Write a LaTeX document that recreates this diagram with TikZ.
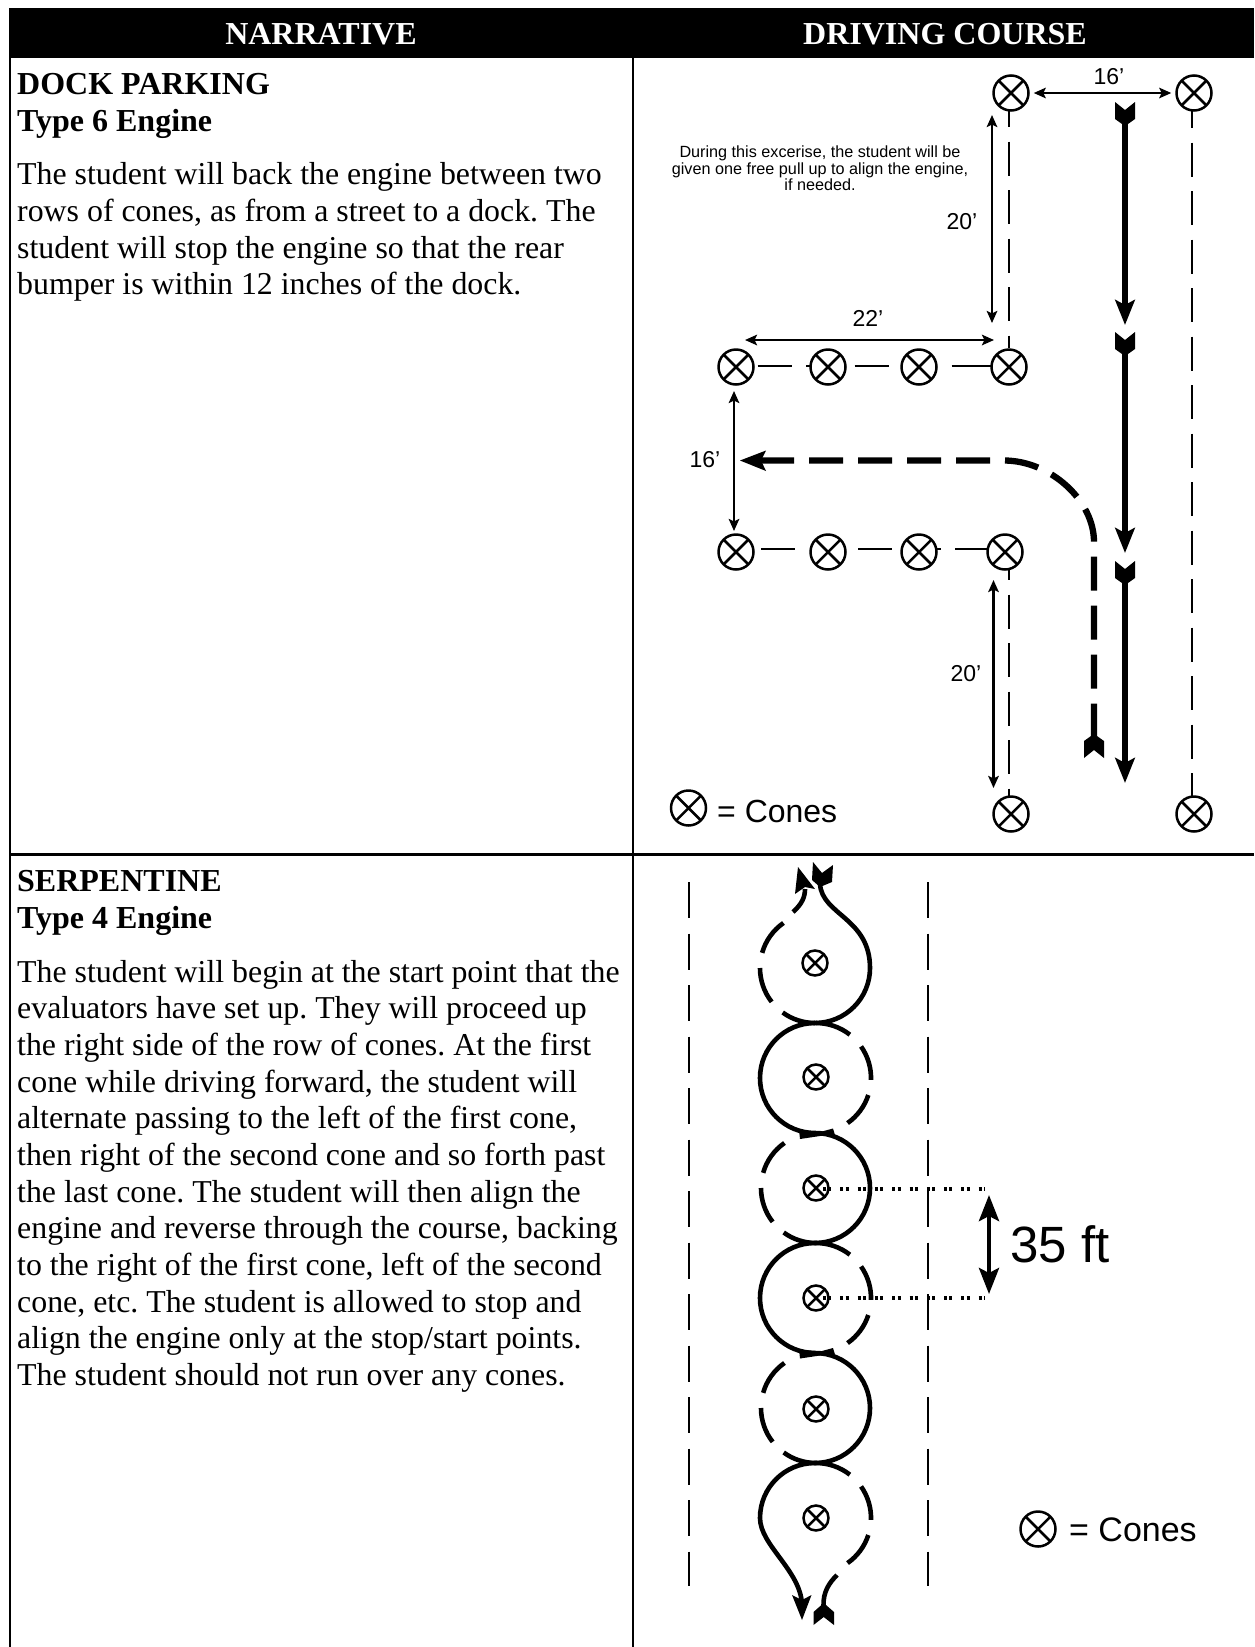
\documentclass[tikz,border=0pt]{standalone}
\usepackage{fontspec}
\setmainfont{Liberation Serif}
\newfontfamily\arial{Liberation Sans}
\usetikzlibrary{arrows.meta,calc}
\frenchspacing
\tikzset{
  cone/.style={circle,draw=black,fill=white,line width=2.5pt,minimum size=35pt,inner sep=0pt,
    path picture={\draw[line width=2.5pt] (path picture bounding box.north east)--(path picture bounding box.south west)
      (path picture bounding box.north west)--(path picture bounding box.south east);}},
  smallcone/.style={cone,minimum size=25pt},
  rule/.style={line width=2.2pt,black},
  lane/.style={line width=2.6pt,dash pattern=on 34pt off 14.5pt},
  lanetwo/.style={line width=2.6pt,dash pattern=on 36pt off 15.5pt},
  dim/.style={line width=2.3pt,{Stealth[length=12pt,width=10.5pt,inset=2.5pt]}-{Stealth[length=12pt,width=10.5pt,inset=2.5pt]}},
  fatline/.style={line width=5.4pt,-{Stealth[length=25pt,width=19.5pt,inset=5pt]}},
  fatdash/.style={line width=6.3pt,dash pattern=on 34pt off 15pt},
  track/.style={line width=4.6pt},
  dots/.style={line width=4.6pt,dash pattern=on 3pt off 2.3pt on 3pt off 9pt},
  bigdim/.style={line width=4.4pt,{Stealth[length=26pt,width=20pt,inset=5pt]}-{Stealth[length=26pt,width=20pt,inset=5pt]}},
  head/.style={text=white,font=\fontsize{32}{36}\selectfont\bfseries,inner sep=0pt,anchor=base},
  title/.style={font=\fontsize{32}{36}\selectfont\bfseries,inner sep=0pt,anchor=base west},
  body/.style={font=\fontsize{31.85}{36.65}\selectfont,inner sep=0pt,anchor=north west,align=left},
  dimtext/.style={font=\arial\fontsize{23}{26}\selectfont,inner sep=0pt},
  feather/.pic={\fill (-10,0)--(0,-8)--(10,0)--(10,-17)--(3,-22)--(-3,-22)--(-10,-17)--cycle;}
}
\newcommand{\rarc}[4][]{\draw[track,#1] (#2) ++(#3:55pt) arc[start angle=#3,end angle=#4,radius=55pt];}
\begin{document}
\begin{tikzpicture}[x=1pt,y=1pt]
\useasboundingbox (0,0) rectangle (1254,-1647);
\fill[white] (0,0) rectangle (1254,-1647);
% table
\coordinate (hl) at (9,-8); \coordinate (hr) at (1254,-58);
\fill[black] (hl) rectangle (hr);
\coordinate (tl) at (10,-58); \coordinate (bl) at (10,-1647);
\coordinate (tm) at (633,-58); \coordinate (bm) at (633,-1647);
\coordinate (ml) at (9,-854.5); \coordinate (mr) at (1254,-854.5);
\draw[rule] (tl)--(bl); \draw[rule] (tm)--(bm); \draw[rule] (ml)--(mr);
\node[head] (h1) at (321,-44.5) {NARRATIVE};
\node[head] (h2) at (945,-44.5) {DRIVING COURSE};
% text
\node[title] (t1) at (17,-94) {DOCK PARKING};
\node[title] (t2) at (17,-131) {Type 6 Engine};
\node[body] (b1) at (17,-162.5) {The student will back the engine between two\\rows of cones, as from a street to a dock. The\\student will stop the engine so that the rear\\bumper is within 12 inches of the dock.};
\node[title] (t3) at (17,-891) {SERPENTINE};
\node[title] (t4) at (17,-928) {Type 4 Engine};
\node[body] (b2) at (17,-960) {The student will begin at the start point that the\\evaluators have set up. They will proceed up\\the right side of the row of cones. At the first\\cone while driving forward, the student will\\alternate passing to the left of the first cone,\\then right of the second cone and so forth past\\the last cone. The student will then align the\\engine and reverse through the course, backing\\to the right of the first cone, left of the second\\cone, etc. The student is allowed to stop and\\align the engine only at the stop/start points.\\The student should not run over any cones.};
% dock course: lanes
\coordinate (la) at (1009,-110); \coordinate (lb) at (1009,-348);
\coordinate (lc) at (1009,-566); \coordinate (ld) at (1009,-798);
\coordinate (ra) at (1192,-110); \coordinate (rb) at (1192,-798);
\coordinate (ha) at (757.5,-366); \coordinate (hb) at (988,-366); \coordinate (hc) at (952,-366); \coordinate (hd) at (992,-366);
\coordinate (ga) at (761,-549); \coordinate (gb) at (988,-549);
\draw[lane,dash phase=17pt] (la)--(lb);
\draw[lane,dash phase=20pt] (lc)--(ld);
\draw[lane,dash phase=16pt] (ra)--(rb);
\draw[lane] (ha)--(hb);
\draw[line width=2.6pt] (hc)--(hd);
\draw[lane] (ga)--(gb);
\node[cone] (c1) at (1011,-93) {};
\node[cone] (c2) at (1194,-93) {};
\node[cone] (c3) at (736,-367) {};
\node[cone] (c4) at (828,-367) {};
\node[cone] (c5) at (919,-367) {};
\node[cone] (c6) at (1009,-367) {};
\node[cone] (c7) at (736,-552) {};
\node[cone] (c8) at (828,-552) {};
\node[cone] (c9) at (919,-552) {};
\node[cone] (c10) at (1005,-552) {};
\node[cone] (c11) at (1011,-814) {};
\node[cone] (c12) at (1194,-814) {};
% dock course: dimensions
\draw[dim] ([xshift=4pt]c1.east)--([xshift=-4pt]c2.west);
\coordinate (d1a) at (992,-115); \coordinate (d1b) at (992,-323);
\draw[dim] (d1a)--(d1b);
\coordinate (d2a) at (745,-340); \coordinate (d2b) at (994,-340);
\draw[dim] (d2a)--(d2b);
\coordinate (d3a) at (734,-391); \coordinate (d3b) at (734,-531);
\draw[dim] (d3a)--(d3b);
\coordinate (d4a) at (993.5,-580); \coordinate (d4b) at (993.5,-788);
\draw[dim] (d4a)--(d4b);
\node[dimtext] (l16a) at (1109,-77) {16’};
\node[dimtext] (l20a) at (962,-222) {20’};
\node[dimtext] (l22) at (868,-318) {22’};
\node[dimtext] (l16b) at (705,-460) {16’};
\node[dimtext] (l20b) at (966,-674) {20’};
\node[font=\arial\fontsize{16.2}{16.6}\selectfont,align=center,inner sep=0pt] (note) at (820,-168.5) {During this excerise, the student will be\\given one free pull up to align the engine,\\if needed.};
% dock course: engine paths
\coordinate (s1a) at (1125,-118); \coordinate (s1b) at (1125,-325);
\coordinate (s2a) at (1125,-348); \coordinate (s2b) at (1125,-553);
\coordinate (s3a) at (1125,-577); \coordinate (s3b) at (1125,-783);
\draw[fatline] (s1a)--(s1b);
\draw[fatline] (s2a)--(s2b);
\draw[fatline] (s3a)--(s3b);
\pic at (1125,-102) {feather};
\pic at (1125,-332) {feather};
\pic at (1125,-561) {feather};
\coordinate (p1) at (760,-460.5); \coordinate (p2) at (1004,-460.5); \coordinate (p3) at (1094,-542); \coordinate (p4) at (1094,-745);
\draw[fatdash] (p1)--(p2) .. controls (1050,-460.5) and (1094,-500) .. (p3)--(p4);
\coordinate (p0) at (740,-460.5);
\fill (p0)--(766,-450.5)--(761,-460.5)--(766,-471)--cycle;
\pic[rotate=180] at (1094,-758) {feather};
\node[cone] (leg1) at (688.5,-808) {};
\node[font=\arial\fontsize{32}{36}\selectfont,inner sep=0pt,anchor=west] (legt1) at (717,-811) {= Cones};
% serpentine: lanes
\coordinate (sa) at (689,-882); \coordinate (sb) at (689,-1586);
\coordinate (sc) at (928,-882); \coordinate (sd) at (928,-1586);
\draw[lanetwo] (sa)--(sb);
\draw[lanetwo] (sc)--(sd);
% serpentine: rings
\coordinate (r1) at (815,-968); \coordinate (r2) at (816,-1078); \coordinate (r3) at (816,-1188);
\coordinate (r4) at (816,-1298); \coordinate (r5) at (816,-1408); \coordinate (r6) at (816,-1518);
% solid path
\coordinate (st0) at (820,-884); \coordinate (st1) at (870,-968);
\draw[track] (st0) .. controls (822,-915) and (870,-918) .. (st1)
  arc[start angle=0,end angle=-90,radius=55pt]
  arc[start angle=90,end angle=270,radius=55pt]
  arc[start angle=90,end angle=-90,radius=55pt]
  arc[start angle=90,end angle=270,radius=55pt]
  arc[start angle=90,end angle=-90,radius=55pt]
  arc[start angle=90,end angle=180,radius=55pt]
  .. controls +(0,-27) and (800,-1570) .. (802,-1604);
\coordinate (tip) at (802,-1620);
\fill (tip)--(792,-1595)--(802,-1600)--(811.5,-1595)--cycle;
% dashed path
\foreach \r in {r1,r3,r5}{
  \rarc{\r}{125}{164}\rarc{\r}{180}{218}\rarc{\r}{234}{270}
}
\foreach \r in {r2,r4,r6}{
  \rarc{\r}{90}{52}\rarc{\r}{35}{-2}\rarc{\r}{-18}{-55}
}
\fill (799,-1130)--(820,-1132)--(833,-1128.5)--(835,-1135)--(820,-1136)--(800,-1139)--cycle;
\fill (799,-1349.5)--(820,-1351.5)--(833,-1348)--(835,-1354.5)--(820,-1355.5)--(800,-1358.5)--cycle;
\coordinate (q1) at (793,-912); \coordinate (q2) at (805,-889);
\draw[track] (q1) .. controls (802,-904) and (805,-897) .. (q2);
\fill (798,-867)--(795,-894)--(805,-887)--(815,-889)--cycle;
\fill (813,-862)--(812,-880)--(820,-887)--(832,-882)--(833,-865)--(822,-873)--cycle;
\coordinate (q3) at (837,-1575); \coordinate (q4) at (823.5,-1606);
\draw[track] (q3) .. controls (829,-1583) and (823,-1592) .. (q4);
\fill (813.5,-1625)--(813.5,-1612)--(823.7,-1603)--(834,-1612)--(834,-1625)--(823.7,-1617)--cycle;
% small cones
\node[smallcone] (s1) at (815,-963) {};
\node[smallcone] (s2) at (816,-1077) {};
\node[smallcone] (s3) at (816,-1188) {};
\node[smallcone] (s4) at (816,-1298) {};
\node[smallcone] (s5) at (816,-1409) {};
\node[smallcone] (s6) at (816,-1518) {};
% dotted
\coordinate (da) at (823,-1189); \coordinate (db) at (985,-1189);
\coordinate (dc) at (823,-1298); \coordinate (dd) at (985,-1298);
\draw[dots] (da)--(db);
\draw[dots] (dc)--(dd);
% 35 ft
\coordinate (e1) at (989,-1195); \coordinate (e2) at (989,-1294);
\draw[bigdim] (e1)--(e2);
\node[font=\arial\fontsize{51}{56}\selectfont,inner sep=0pt,anchor=west] (ft) at (1010,-1244) {35 ft};
\node[cone] (leg2) at (1038,-1529) {};
\node[font=\arial\fontsize{34}{38}\selectfont,inner sep=0pt,anchor=west] (legt2) at (1069,-1530) {= Cones};
\end{tikzpicture}
\end{document}
